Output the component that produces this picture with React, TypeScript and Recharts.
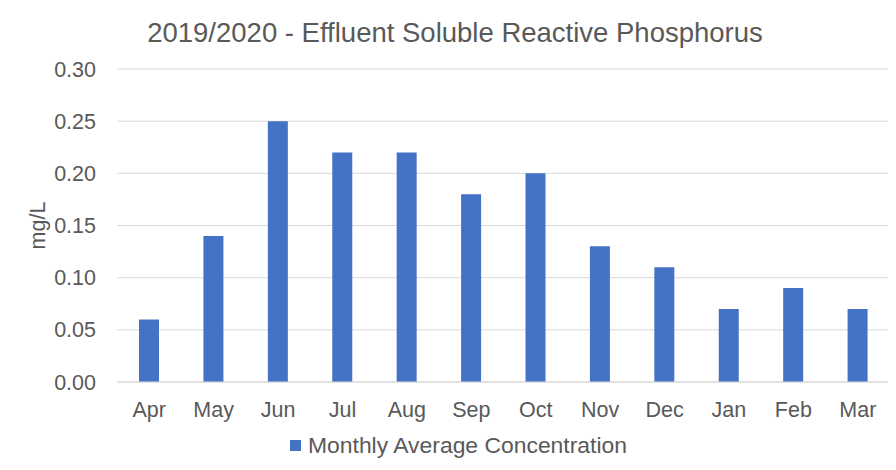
import { Bar, BarChart, CartesianGrid, Legend, XAxis, YAxis } from "recharts";

const months = ["Apr", "May", "Jun", "Jul", "Aug", "Sep", "Oct", "Nov", "Dec", "Jan", "Feb", "Mar"];
const concentration = [0.06, 0.14, 0.25, 0.22, 0.22, 0.18, 0.2, 0.13, 0.11, 0.07, 0.09, 0.07];
const yTicks = [0, 0.05, 0.1, 0.15, 0.2, 0.25, 0.3];

const data = months.map((month, i) => ({ month, value: concentration[i] }));

const font = '"Liberation Sans", Arial, sans-serif';
const textColor = "#595959";
const barColor = "#4472c4";

const LegendBox = () => (
  <div
    style={{
      display: "flex",
      alignItems: "center",
      justifyContent: "center",
      height: 24,
      paddingLeft: 21,
      fontSize: 22.9,
      fontFamily: font,
      color: textColor,
    }}
  >
    <span style={{ display: "inline-block", width: 11, height: 11, background: barColor, marginRight: 7 }} />
    <span>Monthly Average Concentration</span>
  </div>
);

const App = () => {
  return (
    <div
      style={{
        position: "relative",
        width: 896,
        height: 470,
        margin: -8,
        background: "#fff",
        fontFamily: font,
        overflow: "hidden",
      }}
    >
      <div
        style={{
          position: "absolute",
          left: 6,
          top: 5,
          width: 900,
          height: 480,
          border: "1px solid #d9d9d9",
        }}
      />
      <div
        style={{
          position: "absolute",
          top: 17,
          left: 0,
          width: 910,
          textAlign: "center",
          fontSize: 27.5,
          color: textColor,
        }}
      >
        2019/2020 - Effluent Soluble Reactive Phosphorus
      </div>
      <BarChart
        width={896}
        height={470}
        data={data}
        margin={{ top: 69, right: 6, bottom: 0, left: 0 }}
        barSize={20}
      >
        <CartesianGrid vertical={false} stroke="#d9d9d9" />
        <XAxis
          dataKey="month"
          height={64}
          tickLine={false}
          tickSize={0}
          tickMargin={20}
          stroke="#d9d9d9"
          tick={{ fill: textColor, fontSize: 21.5, fontFamily: font }}
        />
        <YAxis
          width={117}
          domain={[0, 0.3]}
          ticks={yTicks}
          tickFormatter={(v: number) => v.toFixed(2)}
          axisLine={false}
          tickLine={false}
          tickSize={0}
          tickMargin={21}
          tick={{ fill: textColor, fontSize: 21.5, fontFamily: font }}
          label={{
            value: "mg/L",
            angle: -90,
            position: "insideLeft",
            offset: 37,
            style: { textAnchor: "middle", fill: textColor, fontSize: 21.5, fontFamily: font },
          }}
        />
        <Legend
          verticalAlign="bottom"
          content={<LegendBox />}
          wrapperStyle={{ bottom: 13, left: 0, width: 896, height: 24 }}
        />
        <Bar
          dataKey="value"
          name="Monthly Average Concentration"
          fill={barColor}
          isAnimationActive={false}
        />
      </BarChart>
    </div>
  );
};

export default App;
